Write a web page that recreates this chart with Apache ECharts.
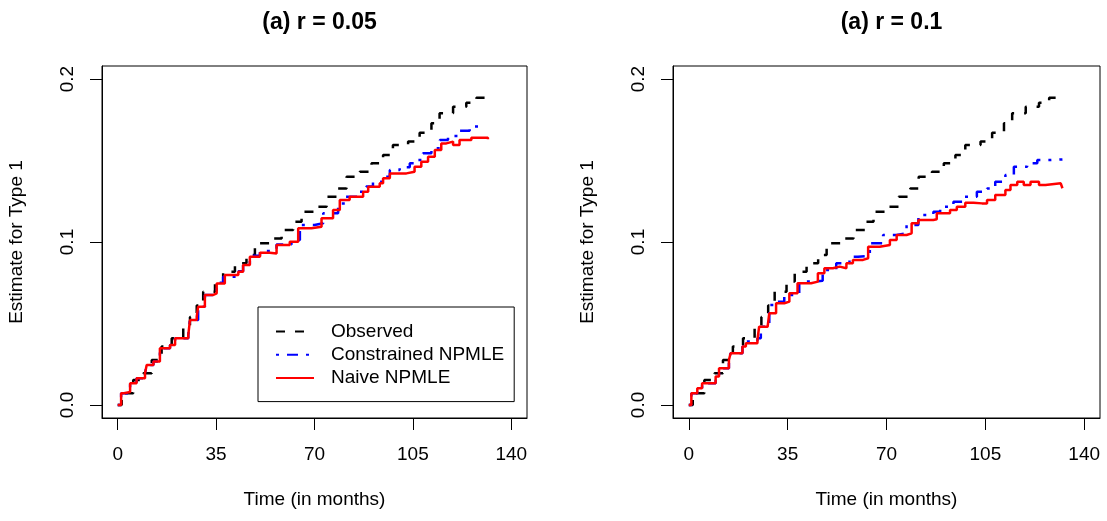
<!DOCTYPE html>
<html>
<head>
<meta charset="utf-8">
<script src="https://cdn.jsdelivr.net/npm/echarts@6/dist/echarts.min.js"></script>
<style>
html, body { margin: 0; padding: 0; background: #fff; }
#main { width: 1107px; height: 521px; }
</style>
</head>
<body>
<div id="main"></div>
<script>
var titles = ['(a) r = 0.05', '(a) r = 0.1'];
var xTicks = [0, 35, 70, 105, 140];
var yTicks = [0, 0.1, 0.2];
var seriesNames = ['Observed', 'Constrained NPMLE', 'Naive NPMLE'];

// observed curve, same in both panels
var obsTime = [0, 1.4, 5.5, 9.1, 12.1, 15.6, 19.2, 23.3, 25.7, 28.1, 30.4, 34.6, 37.5, 41.7, 45.8, 48.8, 54.1, 58.3, 62.4, 65.4,
    70.1, 74.3, 78.4, 81.4, 86.1, 90.3, 94.4, 97.9, 103.3, 107.4, 111.6, 114.5, 119.3, 124.0, 127.6, 131.7];
var obsEst = [0, 0.0072, 0.0153, 0.0194, 0.0276, 0.0358, 0.041, 0.047, 0.054, 0.061, 0.0695, 0.0757, 0.0818, 0.0869, 0.092, 0.0992, 0.1022, 0.1074, 0.1125, 0.1186,
    0.1217, 0.1278, 0.1329, 0.14, 0.1431, 0.1483, 0.1534, 0.1595, 0.1616, 0.167, 0.1728, 0.179, 0.183, 0.1855, 0.1885, 0.1885];

// r = 0.05
var con05Time = [0, 1.2, 4.4, 6.7, 9.7, 10.3, 12.7, 15.0, 18.6, 20.4, 25.1, 25.7, 28.6, 31.0, 35.2, 37.5, 42.9, 44.6, 47.0, 50.6,
    54.7, 56.5, 61.8, 64.8, 70.0, 73.1, 78.4, 80.8, 85.5, 88.4, 90.8, 95.0, 96.8, 100.3, 103.9, 106.3, 108.6, 111.6, 114.6, 117.5,
    121.0, 125.2, 130.5];
var con05Est = [0, 0.0072, 0.0133, 0.0164, 0.0194, 0.0245, 0.0266, 0.0348, 0.0368, 0.041, 0.043, 0.0521, 0.0603, 0.0675, 0.075, 0.0787, 0.082, 0.0862, 0.0915, 0.0945,
    0.0951, 0.0985, 0.1012, 0.1104, 0.1115, 0.1176, 0.1237, 0.1278, 0.1309, 0.134, 0.137, 0.14, 0.1442, 0.1458, 0.1483, 0.1503, 0.1544, 0.1575, 0.1626, 0.165,
    0.1683, 0.1708, 0.1708];
var naive05Time = [0, 1.2, 2.2, 4.4, 6.7, 9.7, 10.3, 12.7, 15.0, 18.6, 20.4, 25.1, 25.7, 28.1, 28.6, 31.0, 34.0, 35.2, 38.1, 42.9,
    44.6, 47.0, 50.6, 54.1, 56.5, 61.2, 64.2, 68.9, 72.5, 76.6, 79.0, 82.5, 87.3, 89.1, 93.2, 94.4, 96.8, 102.7, 105.6, 108.0,
    110.4, 112.8, 115.1, 116.9, 119.3, 121.6, 125.8, 131.7];
var naive05Est = [0, 0.0072, 0.008, 0.0133, 0.0164, 0.0194, 0.0245, 0.0266, 0.0348, 0.0368, 0.041, 0.043, 0.0521, 0.0542, 0.0603, 0.0675, 0.0685, 0.0746, 0.0798, 0.0818,
    0.0859, 0.091, 0.0934, 0.093, 0.0982, 0.1002, 0.1084, 0.1094, 0.1145, 0.1196, 0.1258, 0.1278, 0.1309, 0.1339, 0.136, 0.1391, 0.1421, 0.1431, 0.1462, 0.1493,
    0.1523, 0.1564, 0.1605, 0.1616, 0.1595, 0.1626, 0.164, 0.163];

// r = 0.1
var con10Time = [0, 0.9, 3.0, 4.7, 9.5, 10.7, 14.2, 14.8, 19.0, 20.2, 24.3, 25.5, 28.5, 30.9, 33.8, 39.1, 43.8, 47.4, 52.2, 56.9,
    59.9, 64.1, 68.8, 73.6, 77.1, 81.3, 86.6, 89.0, 93.7, 97.3, 102.0, 105.6, 108.5, 112.1, 115.1, 119.8, 123.4, 128.0, 132.3];
var con10Est = [0, 0.0072, 0.0102, 0.0133, 0.0174, 0.0225, 0.0286, 0.0317, 0.0358, 0.0389, 0.041, 0.048, 0.0613, 0.0634, 0.0675, 0.0757, 0.0762, 0.0828, 0.0869, 0.091,
    0.0915, 0.0992, 0.1043, 0.1053, 0.1104, 0.1166, 0.1186, 0.1217, 0.1247, 0.1278, 0.1309, 0.1329, 0.137, 0.1411, 0.1462, 0.1483, 0.1503, 0.1507, 0.1507];
var naive10Time = [0, 0.9, 3.0, 4.7, 9.5, 10.7, 14.2, 14.8, 19.0, 20.2, 24.3, 24.9, 27.9, 28.5, 30.9, 33.8, 35.6, 38.5, 43.3, 45.7,
    48.0, 51.0, 53.4, 55.8, 58.1, 61.7, 63.5, 67.6, 71.2, 73.6, 77.1, 78.9, 81.3, 86.6, 87.8, 92.5, 94.9, 97.9, 100.8, 103.8,
    105.6, 108.5, 112.1, 113.9, 116.3, 118.6, 121.0, 124.0, 126.3, 131.7, 132.3];
var naive10Est = [0, 0.0072, 0.0102, 0.0133, 0.0174, 0.0225, 0.0276, 0.0317, 0.0358, 0.0378, 0.0399, 0.048, 0.0491, 0.0563, 0.0624, 0.0634, 0.0685, 0.0747, 0.0757, 0.0808,
    0.0839, 0.0849, 0.0839, 0.0869, 0.089, 0.09, 0.0971, 0.0982, 0.1012, 0.1043, 0.1053, 0.1115, 0.1135, 0.1139, 0.1176, 0.1196, 0.1217, 0.1241, 0.1237, 0.1237,
    0.1258, 0.1288, 0.1319, 0.135, 0.137, 0.135, 0.137, 0.135, 0.136, 0.135, 0.133];

var FONT = '"Liberation Sans", Arial, Helvetica, sans-serif';

function pairs(xs, ys) {
    return xs.map(function (x, i) { return [x, ys[i]]; });
}

var chartDom = document.getElementById('main');
var myChart = echarts.init(chartDom);
var option;

var grids = [
    { left: 102, top: 66, width: 425, height: 352 },
    { left: 673, top: 66, width: 427, height: 352 }
];

function makeX(i) {
    return {
        gridIndex: i,
        type: 'value',
        min: -5.6,
        max: 145.6,
        name: 'Time (in months)',
        nameLocation: 'middle',
        nameGap: 72,
        nameTextStyle: { fontSize: 19, color: '#000', fontFamily: FONT },
        axisLine: { show: true, onZero: false, lineStyle: { color: '#000', width: 1 } },
        axisTick: { show: true, inside: false, length: 12, customValues: xTicks, lineStyle: { color: '#000' } },
        axisLabel: { customValues: xTicks, fontSize: 19, color: '#000', margin: 27, fontFamily: FONT },
        splitLine: { show: false }
    };
}

function makeY(i) {
    return {
        gridIndex: i,
        type: 'value',
        min: -0.008,
        max: 0.208,
        name: 'Estimate for Type 1',
        nameLocation: 'middle',
        nameGap: 76,
        nameRotate: 90,
        nameTextStyle: { fontSize: 19, color: '#000', fontFamily: FONT },
        axisLine: { show: true, onZero: false, lineStyle: { color: '#000', width: 1 } },
        axisTick: { show: true, inside: false, length: 12, customValues: yTicks, lineStyle: { color: '#000' } },
        axisLabel: {
            customValues: yTicks, rotate: 90, fontSize: 19, color: '#000', margin: 25, fontFamily: FONT,
            formatter: function (v) { return v.toFixed(1); }
        },
        splitLine: { show: false }
    };
}

function line(name, i, xs, ys, color, dash) {
    return {
        name: name,
        type: 'line',
        xAxisIndex: i,
        yAxisIndex: i,
        step: 'end',
        symbol: 'none',
        showSymbol: false,
        data: pairs(xs, ys),
        lineStyle: { color: color, width: 2.5, type: dash, cap: 'butt' },
        itemStyle: { color: color },
        emphasis: { disabled: true }
    };
}

option = {
    animation: false,
    backgroundColor: '#fff',
    title: titles.map(function (t, i) {
        return {
            text: t,
            left: grids[i].left + grids[i].width / 2,
            top: 6,
            textAlign: 'center',
            textStyle: { fontSize: 23, fontWeight: 'bold', color: '#000', fontFamily: FONT }
        };
    }),
    grid: grids.map(function (g) {
        return {
            left: g.left, top: g.top, width: g.width, height: g.height,
            show: true, borderColor: '#000', borderWidth: 1, backgroundColor: 'transparent'
        };
    }),
    xAxis: [makeX(0), makeX(1)],
    yAxis: [makeY(0), makeY(1)],
    legend: {
        data: seriesNames,
        orient: 'vertical',
        left: 258,
        top: 307,
        selectedMode: false,
        borderColor: '#000',
        borderWidth: 1,
        padding: [15, 10, 14, 17],
        itemWidth: 38,
        itemHeight: 14,
        itemGap: 4.3,
        itemStyle: { opacity: 0, borderWidth: 0 },
        textStyle: { fontSize: 19, color: '#000', fontFamily: FONT, lineHeight: 19, padding: [0, 0, 0, 12] }
    },
    series: [
        line(seriesNames[0], 0, obsTime, obsEst, '#000000', [9, 10]),
        line(seriesNames[1], 0, con05Time, con05Est, '#0000ff', [3, 8, 11, 8]),
        line(seriesNames[2], 0, naive05Time, naive05Est, '#ff0000', 'solid'),
        line(seriesNames[0], 1, obsTime, obsEst, '#000000', [9, 10]),
        line(seriesNames[1], 1, con10Time, con10Est, '#0000ff', [3, 8, 11, 8]),
        line(seriesNames[2], 1, naive10Time, naive10Est, '#ff0000', 'solid')
    ]
};

option && myChart.setOption(option);

window.addEventListener('resize', myChart.resize);
</script>
</body>
</html>
